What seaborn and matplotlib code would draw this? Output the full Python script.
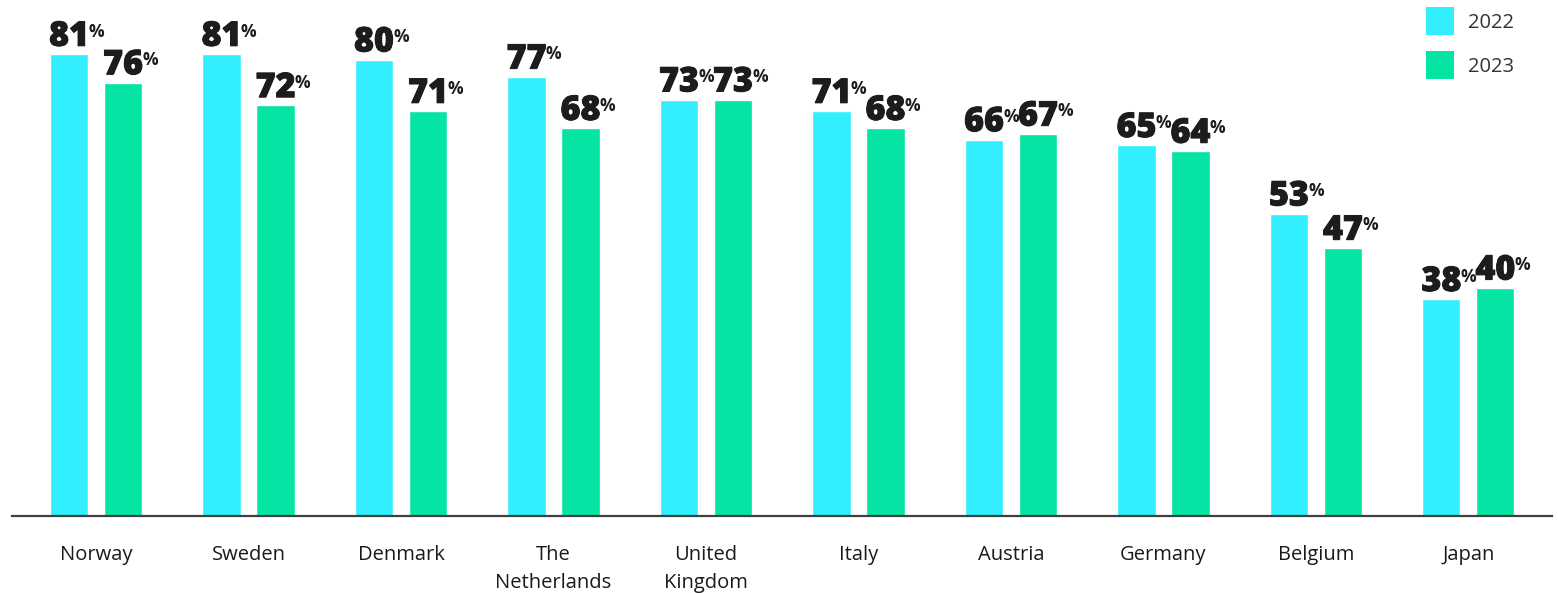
import matplotlib
matplotlib.use("Agg")
import matplotlib.pyplot as plt
import matplotlib.patheffects as pe
from matplotlib.patches import Patch
import seaborn as sns
import pandas as pd

countries = ["Norway", "Sweden", "Denmark", "The\nNetherlands", "United\nKingdom",
             "Italy", "Austria", "Germany", "Belgium", "Japan"]
years = ["2022", "2023"]
values_2022 = [81, 81, 80, 77, 73, 71, 66, 65, 53, 38]
values_2023 = [76, 72, 71, 68, 73, 68, 67, 64, 47, 40]
colors = ["#33EEFF", "#05E3A5"]

df = pd.DataFrame({
    "country": countries * 2,
    "year": [years[0]] * len(countries) + [years[1]] * len(countries),
    "value": values_2022 + values_2023,
})

sns.set_theme(style="white")
plt.rcParams["font.family"] = ["Open Sans", "DejaVu Sans"]

W, H = 1558, 593
fig = plt.figure(figsize=(W / 100, H / 100), dpi=100)
ax = fig.add_axes([12 / W, 77 / H, (1552 - 12) / W, 1 - 77 / H])

sns.barplot(data=df, x="country", y="value", hue="year", palette=colors,
            order=countries, hue_order=years, width=0.708, gap=0.294,
            saturation=1, ax=ax, legend=False)

ax.set_xlim(-0.551, 9.548)
ax.set_ylim(0, 90.5)
ax.set_xlabel("")
ax.set_ylabel("")
ax.set_yticks([])
for s in ["top", "right", "left"]:
    ax.spines[s].set_visible(False)
ax.spines["bottom"].set_color("#404040")
ax.spines["bottom"].set_linewidth(1.6)
ax.tick_params(axis="x", length=0, pad=21, labelsize=14.5, colors="#1a1a1a")
for t in ax.get_xticklabels():
    t.set_verticalalignment("top")
    t.set_linespacing(1.5)

stroke = [pe.withStroke(linewidth=0.7, foreground="#1c1c1c")]
for container in ax.containers:
    for bar in container:
        h = bar.get_height()
        cx = bar.get_x() + bar.get_width() / 2
        num = ax.annotate(f"{h:.0f}", xy=(cx, h), xytext=(0, 6),
                          textcoords="offset points", ha="center", va="baseline",
                          fontsize=24.5, fontweight="heavy", color="#1c1c1c",
                          path_effects=stroke)
        ax.annotate("%", xy=(1, 0.92), xycoords=num, xytext=(-0.5, 0),
                    textcoords="offset points", ha="left", va="top",
                    fontsize=12.5, fontweight="bold", color="#1c1c1c")

handles = [Patch(facecolor=c, edgecolor="none") for c in colors]
ax.legend(handles, years, loc="upper left",
          bbox_to_anchor=(1426 / W, 1 - 7 / H), bbox_transform=fig.transFigure,
          frameon=False, fontsize=14.5, handlelength=1.4, handleheight=1.77,
          handletextpad=0.7, labelspacing=0.8, borderpad=0, borderaxespad=0,
          labelcolor="#333333")

fig.savefig("out.png", dpi=100)
